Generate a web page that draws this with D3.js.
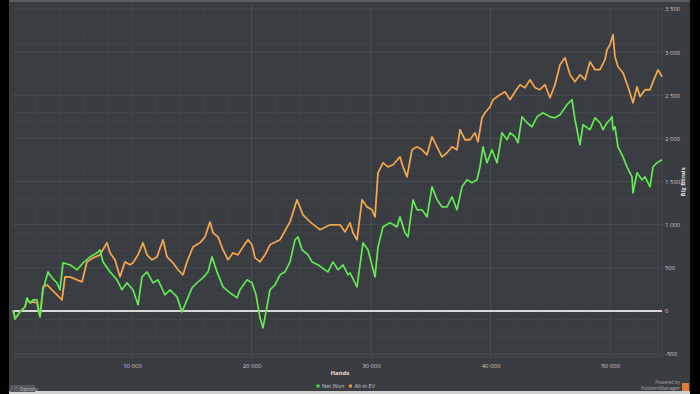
<!DOCTYPE html>
<html><head><meta charset="utf-8">
<script src="https://cdn.jsdelivr.net/npm/d3@7"></script>
<style>
html,body{margin:0;padding:0;background:#3a3d41;}
svg{display:block;}
text{font-family:"Open Sans","DejaVu Sans",sans-serif;}
</style></head>
<body><svg id="c" width="700" height="394"></svg>
<script>
// ---- data (hands, big blinds) ----
const netWonHands = [0,125,209,628,1046,1213,1464,1715,2050,2301,2552,2971,3305,3724,3975,4226,4812,5397,5899,6485,7071,7322,7573,8159,8745,9163,9581,10083,10502,10837,11255,11757,12176,12762,13180,13766,14184,14603,15021,15523,15942,16360,16694,17113,17615,18201,18787,19038,19624,20042,20377,20712,20963,21214,21548,21967,22385,22804,23222,23640,23891,24226,24728,25063,25565,25900,26402,26820,27239,27657,28076,28243,28829,29331,29749,30335,30586,31005,31590,32176,32427,32845,33096,33515,33849,34268,34686,35105,35523,35941,36360,36778,37197,37615,38033,38452,38870,39121,39372,39707,40125,40543,40962,41380,41631,42050,42301,42635,43054,43472,43891,44393,44979,45397,45816,46401,46820,47071,47489,47740,48326,48744,49163,49414,49749,50000,50167,50251,50418,50669,51088,51423,51841,51925,52260,52678,52929,53347,53598,53933,54351];
const netWon = [0,-23,-93,-12,46,151,93,128,128,-70,244,452,383,325,244,557,534,476,557,626,673,708,568,452,360,244,325,244,70,394,452,325,360,186,244,162,-12,128,267,336,383,452,626,452,278,209,151,244,360,325,186,-81,-197,-12,244,302,418,452,568,824,858,708,650,568,534,499,452,568,476,534,418,441,278,789,708,394,742,974,1021,974,1090,905,858,1288,1172,1172,1090,1438,1288,1206,1206,1322,1172,1438,1520,1485,1520,1670,1902,1717,1868,1717,2065,1984,2065,2018,1949,2250,2181,2134,2250,2297,2250,2239,2274,2390,2448,2216,1926,2158,2100,2239,2181,2100,2181,2216,2250,2100,2134,1902,1786,1670,1554,1369,1601,1520,1554,1438,1670,1717,1752];

const allInHands = [0,125,209,628,1046,1213,1464,1715,2050,2301,2552,2887,3305,3556,3975,4142,4393,4812,5397,5816,6234,6736,7322,7908,8159,8577,8996,9414,9832,10083,10502,10920,11255,11673,12092,12594,12929,13431,13849,14268,14603,15105,15690,16109,16527,16778,17197,17615,18033,18452,18870,19289,19707,20042,20293,20712,21130,21548,22385,23222,23808,24310,24895,25732,26569,27406,27824,28243,28494,28829,29247,29665,30084,30335,30586,31005,31423,31841,32427,32678,33012,33431,33849,34268,34686,35105,35523,35941,36360,36778,37197,37448,37866,38284,38703,38954,39289,39540,39958,40209,40795,41213,41631,42050,42468,42887,43305,43723,44142,44560,44979,45397,45816,46234,46653,47071,47489,47908,48326,48744,49163,49581,49749,50000,50251,50418,50669,51088,51506,51925,52260,52511,52929,53347,53598,54017,54351];
const allInEV = [0,-23,-93,-12,46,128,93,104,93,-70,278,302,244,209,151,128,394,394,360,336,568,615,650,789,673,592,394,568,534,557,650,789,650,592,626,824,626,557,476,418,568,742,789,858,1032,905,858,708,592,673,650,742,824,766,615,568,650,766,824,1032,1288,1114,1032,940,998,998,916,1021,905,824,1288,1206,1172,1090,1601,1717,1670,1694,1786,1670,1554,1868,1902,1868,1810,2018,1902,1786,1833,1902,1868,2100,1984,1984,2065,1960,2239,2297,2366,2448,2506,2540,2448,2540,2622,2587,2680,2587,2564,2622,2471,2622,2854,2935,2738,2656,2738,2680,2888,2796,2796,2912,3028,3086,3202,2946,2830,2761,2598,2413,2598,2482,2564,2564,2656,2796,2714];

const yTicks = [-500,0,500,1000,1500,2000,2500,3000,3500];
const yTickLabels = ["-500","0","500","1 000","1 500","2 000","2 500","3 000","3 500"];
const xTicks = [10000,20000,30000,40000,50000];
const xTickLabels = ["10 000","20 000","30 000","40 000","50 000"];
const seriesNames = ["Net Won","All-in EV"];
const seriesColors = ["#46d63c","#e8953c"];

// ---- drawing ----
const svg = d3.select("#c");
const W = 700, H = 394;
const plot = {l:13, r:662, t:5, b:357};

const x = d3.scaleLinear().domain([0, 54351]).range([12.5, 662]);
const y = d3.scaleLinear().domain([-500, 3500]).range([354, 9]);

svg.append("rect").attr("width",W).attr("height",H).attr("fill","#393c40");
svg.append("rect").attr("x",0).attr("y",0).attr("width",W).attr("height",2).attr("fill","#5a5d61");

// grid
const g = svg.append("g");
const minorX = d3.range(2000, 54351, 2000);
const minorY = d3.range(-500, 3550, 100);
g.selectAll(".vx").data(minorX).join("line")
  .attr("x1",d=>x(d)).attr("x2",d=>x(d)).attr("y1",plot.t).attr("y2",plot.b)
  .attr("stroke", d => d % 10000 === 0 ? "#494c50" : "#404347").attr("stroke-width",1);
g.selectAll(".hy").data(minorY).join("line")
  .attr("x1",plot.l).attr("x2",plot.r).attr("y1",d=>y(d)).attr("y2",d=>y(d))
  .attr("stroke", d => d % 500 === 0 ? "#494c50" : "#404347").attr("stroke-width",1);
g.append("line").attr("x1",plot.r).attr("x2",plot.r).attr("y1",plot.t).attr("y2",plot.b).attr("stroke","#45484c");
g.append("line").attr("x1",plot.l).attr("x2",plot.r).attr("y1",plot.b).attr("y2",plot.b).attr("stroke","#45484c");

// zero line
svg.append("line").attr("x1",plot.l).attr("x2",plot.r).attr("y1",y(0)).attr("y2",y(0))
  .attr("stroke","#d8d8d8").attr("stroke-width",2);

// axes (right & bottom)
const yAxis = d3.axisRight(y).tickValues(yTicks).tickFormat((d,i)=>yTickLabels[i]).tickSize(0).tickPadding(3);
const ya = svg.append("g").attr("transform",`translate(${plot.r},0)`).call(yAxis);
ya.select(".domain").remove();
ya.selectAll("text").attr("fill","#c8c8c8").style("font-size","6px");

const xAxis = d3.axisBottom(x).tickValues(xTicks).tickFormat((d,i)=>xTickLabels[i]).tickSize(0).tickPadding(7);
const xa = svg.append("g").attr("transform",`translate(0,${plot.b})`).call(xAxis);
xa.select(".domain").remove();
xa.selectAll("text").attr("fill","#c8c8c8").style("font-size","6px");

// titles
svg.append("text").attr("x",340).attr("y",375).attr("text-anchor","middle")
  .attr("fill","#e0e0e0").style("font-size","6px").style("font-weight","bold").text("Hands");
svg.append("text").attr("transform","translate(685,182) rotate(-90)").attr("text-anchor","middle")
  .attr("fill","#e0e0e0").style("font-size","6px").style("font-weight","bold").text("Big Blinds");

// lines
const line = d3.line().x(d=>x(d[0])).y(d=>y(d[1]));
const evData = allInHands.map((h,i)=>[h, allInEV[i]]);
const nwData = netWonHands.map((h,i)=>[h, netWon[i]]);
svg.append("path").datum(evData).attr("d",line).attr("fill","none")
  .attr("stroke",seriesColors[1]).attr("stroke-width",1.8).attr("stroke-linejoin","round");
svg.append("path").datum(evData).attr("d",line).attr("fill","none")
  .attr("stroke","#f5c07a").attr("stroke-width",0.6).attr("stroke-linejoin","round");
svg.append("path").datum(nwData).attr("d",line).attr("fill","none")
  .attr("stroke",seriesColors[0]).attr("stroke-width",1.8).attr("stroke-linejoin","round");
svg.append("path").datum(nwData).attr("d",line).attr("fill","none")
  .attr("stroke","#9cf08a").attr("stroke-width",0.6).attr("stroke-linejoin","round");

// legend
const lg = svg.append("g").attr("transform","translate(318,388)");
let off = 0;
seriesNames.forEach((n,i)=>{
  lg.append("circle").attr("cx",off).attr("cy",-2).attr("r",1.8).attr("fill",seriesColors[i]);
  const t = lg.append("text").attr("x",off+4).attr("y",0).attr("fill","#c8c8c8").style("font-size","5.5px").text(n);
  off += t.node().getComputedTextLength() + 10;
});

// side bars and footer
svg.append("rect").attr("x",0).attr("y",0).attr("width",9).attr("height",H).attr("fill","#000");
svg.append("rect").attr("x",690).attr("y",0).attr("width",10).attr("height",H).attr("fill","#000");
svg.append("rect").attr("x",9).attr("y",391).attr("width",681).attr("height",3).attr("fill","#cfd0d2");
svg.append("rect").attr("x",10).attr("y",385).attr("width",25).attr("height",7).attr("fill","#55585c");
svg.append("text").attr("x",14).attr("y",390.5).attr("fill","#bbb").style("font-size","5px").text("⌃ Options");
svg.append("text").attr("x",680).attr("y",384).attr("text-anchor","end").attr("fill","#aaa").style("font-size","4.5px").text("Powered by");
svg.append("text").attr("x",680).attr("y",390).attr("text-anchor","end").attr("fill","#aaa").style("font-size","5px").text("HoldemManager");
svg.append("rect").attr("x",682).attr("y",383).attr("width",7).attr("height",8).attr("fill","#e07a3a");
</script></body></html>
